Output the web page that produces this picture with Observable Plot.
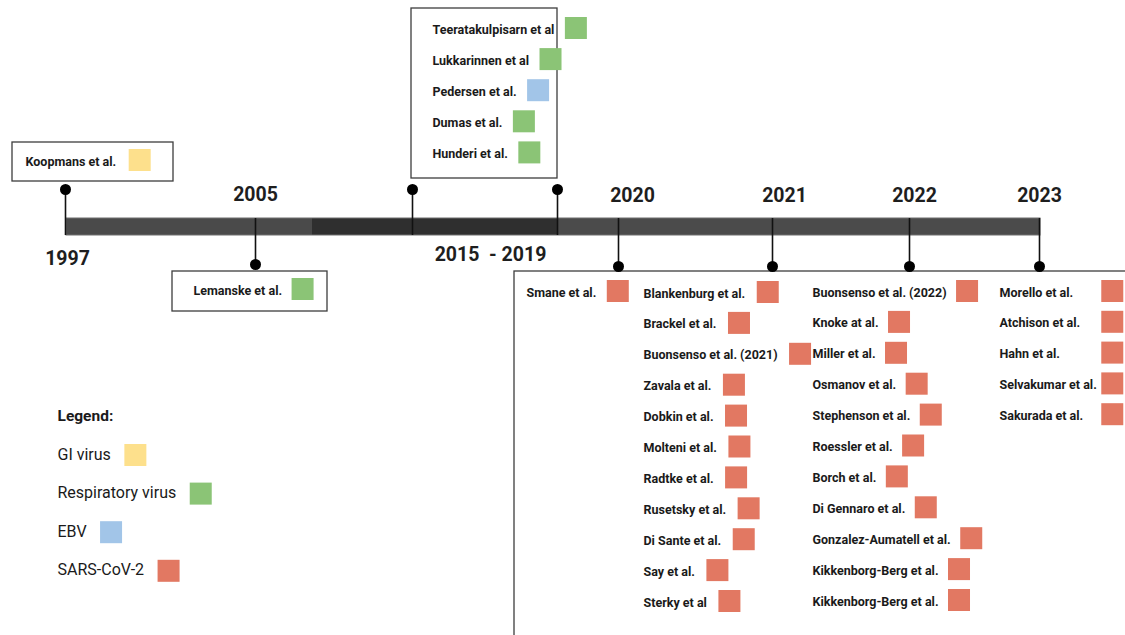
<!DOCTYPE html>
<html><head><meta charset="utf-8">
<script src="https://cdn.jsdelivr.net/npm/d3@7"></script>
<script src="https://cdn.jsdelivr.net/npm/@observablehq/plot@0.6"></script>
<style>
html,body{margin:0;padding:0;background:#fff;overflow:hidden}
#chart svg{display:block}
</style>
</head><body><div id="chart"></div>
<script>
// ---------- DATA ----------
const periods = ["1997", "2005", "2015\u00a0 - 2019", "2020", "2021", "2022", "2023"];
const virusTypes = ["GI virus", "Respiratory virus", "EBV", "SARS-CoV-2"];
const virusColors = ["#fde08c", "#8bc476", "#a2c5e8", "#e27862"];

const studyNames = [
  "Koopmans et al.",
  "Lemanske et al.",
  "Teeratakulpisarn et al", "Lukkarinnen et al", "Pedersen et al.", "Dumas et al.", "Hunderi et al.",
  "Smane et al.",
  "Blankenburg et al.", "Brackel et al.", "Buonsenso et al. (2021)", "Zavala et al.", "Dobkin et al.",
  "Molteni et al.", "Radtke et al.", "Rusetsky et al.", "Di Sante et al.", "Say et al.", "Sterky et al",
  "Buonsenso et al. (2022)", "Knoke at al.", "Miller et al.", "Osmanov et al.", "Stephenson et al.",
  "Roessler et al.", "Borch et al.", "Di Gennaro et al.", "Gonzalez-Aumatell et al.",
  "Kikkenborg-Berg et al.", "Kikkenborg-Berg et al.",
  "Morello et al.", "Atchison et al.", "Hahn et al.", "Selvakumar et al.", "Sakurada et al."
];
const studyPeriods = [
  "1997",
  "2005",
  "2015\u00a0 - 2019", "2015\u00a0 - 2019", "2015\u00a0 - 2019", "2015\u00a0 - 2019", "2015\u00a0 - 2019",
  "2020",
  "2021", "2021", "2021", "2021", "2021", "2021", "2021", "2021", "2021", "2021", "2021",
  "2022", "2022", "2022", "2022", "2022", "2022", "2022", "2022", "2022", "2022", "2022",
  "2023", "2023", "2023", "2023", "2023"
];
const studyViruses = [
  "GI virus",
  "Respiratory virus",
  "Respiratory virus", "Respiratory virus", "EBV", "Respiratory virus", "Respiratory virus",
  "SARS-CoV-2",
  "SARS-CoV-2", "SARS-CoV-2", "SARS-CoV-2", "SARS-CoV-2", "SARS-CoV-2", "SARS-CoV-2",
  "SARS-CoV-2", "SARS-CoV-2", "SARS-CoV-2", "SARS-CoV-2", "SARS-CoV-2",
  "SARS-CoV-2", "SARS-CoV-2", "SARS-CoV-2", "SARS-CoV-2", "SARS-CoV-2", "SARS-CoV-2",
  "SARS-CoV-2", "SARS-CoV-2", "SARS-CoV-2", "SARS-CoV-2", "SARS-CoV-2",
  "SARS-CoV-2", "SARS-CoV-2", "SARS-CoV-2", "SARS-CoV-2", "SARS-CoV-2"
];

// ---------- LAYOUT (pixel geometry of the diagram) ----------
const W = 1125, H = 635;
const bar = {x1: 66, x2: 1040, y1: 218, y2: 235};
const barSegments = [
  {x1: 66, x2: 312, shade: "#4a4a4a"},
  {x1: 312, x2: 558, shade: "#2f2f2f"},
  {x1: 558, x2: 1040, shade: "#4b4b4b"}
];
const layout = {
  "1997":            {stems: [65],  side: "up",   label: [67, 258],  textX: 25,  rowY: 161, step: 31, gap: 13},
  "2005":            {stems: [255], side: "down", label: [255, 194], textX: 193, rowY: 290, step: 31, gap: 10},
  "2015\u00a0 - 2019": {stems: [412, 557], side: "up", label: [490, 254], textX: 432, rowY: 29, step: 31.1, gap: 11},
  "2020":            {stems: [618], side: "down", label: [632, 195], textX: 526, rowY: 292, step: 30.9, gap: 11},
  "2021":            {stems: [772], side: "down", label: [784, 195], textX: 643, rowY: 293, step: 30.9, gap: 12},
  "2022":            {stems: [909], side: "down", label: [914, 195], textX: 812, rowY: 292, step: 30.9, gap: 10},
  "2023":            {stems: [1039], side: "down", label: [1039, 195], textX: 999, rowY: 292, step: 30.8, gap: 5, align: true}
};
const frames = [
  {x1: 12, x2: 173, y1: 142, y2: 181},
  {x1: 172, x2: 327, y1: 271, y2: 311},
  {x1: 411, x2: 557, y1: 8, y2: 178},
  {x1: 514, x2: 1160, y1: 271, y2: 680}
];
const dotUpY = 189, dotDownY = 266, sq = 22;

const studyFontSize = 12.5;
const ctx = document.createElement("canvas").getContext("2d");
function textWidth(s, font) { ctx.font = font; return ctx.measureText(s).width; }
const studyFont = `bold ${studyFontSize}px Roboto`;

// ---------- BUILD ----------
const counters = {};
const rows = studyNames.map((name, i) => {
  const period = studyPeriods[i];
  const row = counters[period] = (counters[period] ?? -1) + 1;
  const L = layout[period];
  return {name, period, virus: studyViruses[i], tx: L.textX, ty: L.rowY + row * L.step, w: textWidth(name, studyFont)};
});
const maxW = d3.rollup(rows, v => d3.max(v, d => d.w), d => d.period);
rows.forEach(r => {
  const L = layout[r.period];
  r.sx = r.tx + (L.align ? maxW.get(r.period) : r.w) + L.gap;
});

const stems = periods.flatMap(p => layout[p].stems.map(x => ({
  x,
  y1: layout[p].side === "up" ? dotUpY : bar.y1,
  y2: layout[p].side === "up" ? bar.y2 : (p === "2005" ? 264 : dotDownY),
  dy: layout[p].side === "up" ? dotUpY : (p === "2005" ? 264 : dotDownY)
})));
const labels = periods.map(p => ({text: p, x: layout[p].label[0], y: layout[p].label[1]}));

const legendFontSize = 16;
const legendFont = `${legendFontSize}px Roboto`;
const legendRows = virusTypes.map((v, i) => ({
  virus: v, x: 57, y: 454 + i * 38.6, sx: 57 + textWidth(v, legendFont) + 14
}));

const chart = Plot.plot({
  width: W, height: H,
  margin: 0,
  x: {domain: [0, W], range: [0, W], axis: null},
  y: {domain: [0, H], range: [0, H], axis: null},
  color: {type: "ordinal", domain: virusTypes, range: virusColors},
  style: {fontFamily: "Roboto, 'Noto Sans', sans-serif", background: "#fff"},
  marks: [
    // framed boxes
    Plot.rect(frames, {x1: "x1", x2: "x2", y1: "y1", y2: "y2", fill: "#fff", stroke: "#3d3d3d", strokeWidth: 1.3, clip: true}),
    // timeline bar
    Plot.rect(barSegments, {x1: "x1", x2: "x2", y1: () => bar.y1, y2: () => bar.y2, fill: "shade"}),
    Plot.rect([bar], {x1: "x1", x2: "x2", y1: "y1", y2: "y2", fill: "none", stroke: "#6f6f6f", strokeWidth: 1}),
    // stems and dots
    Plot.ruleX(stems, {x: "x", y1: "y1", y2: "y2", stroke: "#111", strokeWidth: 1.6}),
    Plot.dot(stems, {x: "x", y: "dy", r: 5.5, fill: "#000", stroke: "none"}),
    // period labels
    Plot.text(labels, {x: "x", y: "y", text: "text", fontSize: 19.5, fontWeight: "bold", fill: "#1e1e1e"}),
    // study labels + virus squares
    Plot.text(rows, {x: "tx", y: "ty", text: "name", textAnchor: "start", fontSize: studyFontSize, fontWeight: "bold", fill: "#1a1a1a"}),
    Plot.rect(rows, {x1: "sx", x2: d => d.sx + sq, y1: d => d.ty - sq / 2 - 1, y2: d => d.ty + sq / 2 - 1, fill: "virus"}),
    // legend
    Plot.text(["Legend:"], {x: () => 57, y: () => 416, text: d => d, textAnchor: "start", fontSize: 15.5, fontWeight: "bold", fill: "#1a1a1a"}),
    Plot.text(legendRows, {x: "x", y: "y", text: "virus", textAnchor: "start", fontSize: legendFontSize, fill: "#1a1a1a"}),
    Plot.rect(legendRows, {x1: "sx", x2: d => d.sx + sq, y1: d => d.y - sq / 2 + 1, y2: d => d.y + sq / 2 + 1, fill: "virus"})
  ]
});
document.getElementById("chart").append(chart);
</script>
</body></html>
